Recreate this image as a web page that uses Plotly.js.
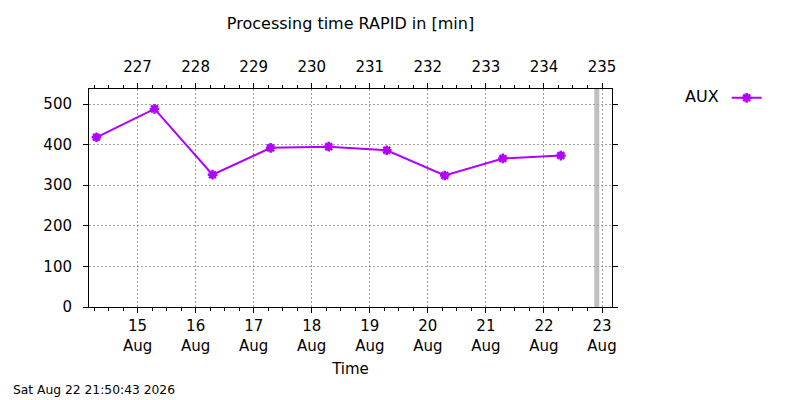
<!DOCTYPE html>
<html>
<head>
<meta charset="utf-8">
<script src="https://cdn.plot.ly/plotly-3.0.1.min.js"></script>
<style>html,body{margin:0;padding:0;background:#fff;}#chart{width:800px;height:400px;}</style>
</head>
<body>
<div id="chart"></div>
<script>
// ---- data ----
const times = ['2026-08-14 07:00', '2026-08-15 07:00', '2026-08-16 07:00', '2026-08-17 07:00',
               '2026-08-18 07:00', '2026-08-19 07:00', '2026-08-20 07:00', '2026-08-21 07:00',
               '2026-08-22 07:00'];
const auxValues = [418, 488, 326, 392, 395, 386, 324, 366, 373];
const seriesName = 'AUX';
const nowTime = '2026-08-22 21:50:43';
const xRange = ['2026-08-14 03:55', '2026-08-23 04:08'];
const yRange = [0, 537];
const yTicks = [0, 100, 200, 300, 400, 500];
const chartTitle = 'Processing time RAPID in [min]';
const xTitle = 'Time';
const footerText = 'Sat Aug 22 21:50:43 2026';

const FONT = 'DejaVu Sans, sans-serif';
const lineColor = '#b000ff';
const gridStyle = {showgrid: true, gridcolor: '#a0a0a0', griddash: '2px,2px', gridwidth: 1};

const trace = {
  x: times, y: auxValues, type: 'scatter', mode: 'lines+markers',
  name: '', xaxis: 'x', yaxis: 'y',
  line: {color: lineColor, width: 2},
  marker: {symbol: 'asterisk', size: 8, color: lineColor, line: {color: lineColor, width: 2.5}}
};
// same series registered on the top (day-of-year) axis so that axis is drawn; draws nothing itself
const topAxisTrace = {
  x: times, y: auxValues, type: 'scatter', mode: 'none', xaxis: 'x2', yaxis: 'y',
  showlegend: false, hoverinfo: 'skip'
};

const layout = {
  width: 800, height: 400,
  margin: {l: 89, r: 188, t: 89, b: 93},
  paper_bgcolor: '#fff', plot_bgcolor: '#fff',
  font: {family: FONT, size: 15, color: '#000'},
  title: {text: chartTitle, x: 0.5, xref: 'paper', xanchor: 'center', y: 1 - 23/400, yanchor: 'middle',
          font: {family: FONT, size: 16, color: '#000'}},
  xaxis: Object.assign({
    type: 'date', range: xRange, side: 'bottom',
    dtick: 86400000, tick0: '2026-08-15', tickformat: '%-d<br>%b',
    ticks: 'outside', ticklen: 5, tickcolor: '#000', tickwidth: 1,
    minor: {dtick: 21600000, ticks: 'outside', ticklen: 3, tickcolor: '#000', showgrid: false},
    showline: true, linecolor: '#000', linewidth: 1, zeroline: false,
    ticklabelstandoff: 0,
    title: {text: xTitle, standoff: 9, font: {family: FONT, size: 15}}
  }, gridStyle),
  xaxis2: {
    type: 'date', range: xRange, overlaying: 'x', side: 'top', anchor: 'y',
    dtick: 86400000, tick0: '2026-08-15', tickformat: '%j',
    ticks: 'outside', ticklen: 5, tickcolor: '#000', tickwidth: 1,
    minor: {dtick: 21600000, ticks: 'outside', ticklen: 3, tickcolor: '#000', showgrid: false},
    showline: true, linecolor: '#000', linewidth: 1, showgrid: false, zeroline: false,
    ticklabelstandoff: 5, tickfont: {family: FONT, size: 15}
  },
  yaxis: Object.assign({
    range: yRange, tickvals: yTicks, ticks: 'outside', ticklen: 5, tickcolor: '#000',
    showline: true, linecolor: '#000', linewidth: 1, mirror: 'ticks', zeroline: false,
    ticklabelstandoff: 8
  }, gridStyle),
  showlegend: true,
  legend: {
    x: (683 - 89) / 523, xanchor: 'left', y: 1.034, yanchor: 'top',
    bgcolor: 'rgba(0,0,0,0)', borderwidth: 0,
    title: {text: seriesName, side: 'left', font: {family: FONT, size: 16}},
    font: {family: FONT, size: 15}
  },
  shapes: [{
    type: 'line', xref: 'x', yref: 'paper', x0: nowTime, x1: nowTime, y0: 0, y1: 1,
    line: {color: '#c0c0c0', width: 5}, layer: 'below'
  }],
  annotations: [{
    text: footerText, xref: 'paper', yref: 'paper', x: (11 - 89) / 523, y: -(390 - 307) / 218,
    xanchor: 'left', yanchor: 'middle', showarrow: false,
    font: {family: FONT, size: 12.3, color: '#000'}
  }]
};

Plotly.newPlot('chart', [trace, topAxisTrace], layout, {displayModeBar: false, staticPlot: true});
</script>
</body>
</html>
